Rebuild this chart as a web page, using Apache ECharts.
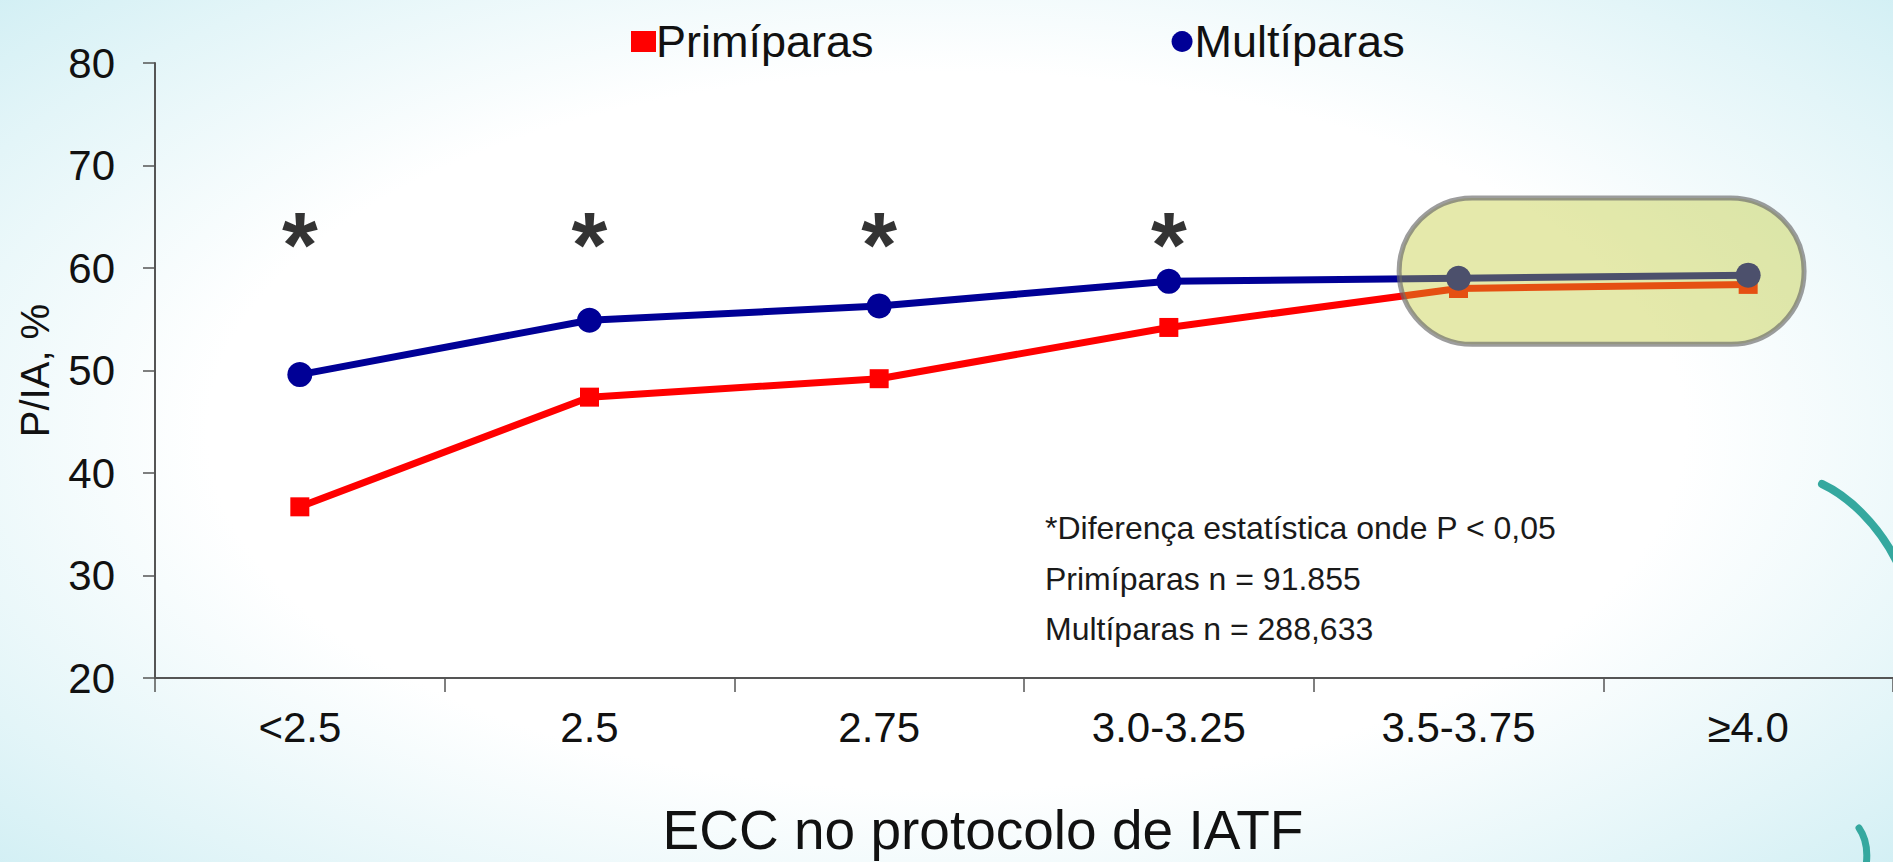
<!DOCTYPE html>
<html>
<head>
<meta charset="utf-8">
<script src="https://cdn.jsdelivr.net/npm/echarts@6/dist/echarts.min.js"></script>
<style>
  html, body { margin: 0; padding: 0; width: 1893px; height: 862px; overflow: hidden; }
  body {
    background: radial-gradient(ellipse 75% 80% at 50% 50%, #ffffff 0%, #ffffff 52%, #e3f5f8 78%, #c9ecf2 100%);
  }
  #chart { width: 1893px; height: 862px; }
</style>
</head>
<body>
<div id="chart"></div>
<script>
// ---- Data ----
const categories = ['<2.5', '2.5', '2.75', '3.0-3.25', '3.5-3.75', '≥4.0'];
const primiparas = [36.7, 47.4, 49.2, 54.2, 58.0, 58.4];
const multiparas = [49.6, 54.9, 56.3, 58.7, 59.0, 59.3];
const seriesNames = ['Primíparas', 'Multíparas'];
const yMin = 20, yMax = 80, yStep = 10;
const starCategories = ['<2.5', '2.5', '2.75', '3.0-3.25'];
const starLevel = 62.2;
const notes = ['*Diferença estatística onde P < 0,05', 'Primíparas n = 91.855', 'Multíparas n = 288,633'];
const highlightCats = ['3.5-3.75', '≥4.0'];
const highlightRange = [52.55, 66.84];
const xAxisTitle = 'ECC no protocolo de IATF';
const yAxisTitle = 'P/IA, %';

const FONT = '"Liberation Sans", Arial, sans-serif';
const chart = echarts.init(document.getElementById('chart'), null, { renderer: 'svg' });

chart.setOption({
  animation: false,
  backgroundColor: 'transparent',
  textStyle: { fontFamily: FONT },
  grid: { left: 155, right: 0, top: 63, bottom: 182, containLabel: false },
  legend: {
    data: [
      { name: seriesNames[0], icon: 'rect' },
      { name: seriesNames[1], icon: 'circle' }
    ],
    left: 626, top: 14,
    itemGap: 298, itemWidth: 25, itemHeight: 21,
    textStyle: { fontSize: 45, color: '#111', fontFamily: FONT, padding: [0, 0, 0, -5] }
  },
  xAxis: {
    type: 'category',
    data: categories,
    boundaryGap: true,
    name: xAxisTitle,
    nameLocation: 'middle',
    nameGap: 124,
    nameTextStyle: { fontSize: 55, color: '#111', fontFamily: FONT, padding: [0, 82, 0, 0] },
    axisLine: { lineStyle: { color: '#555', width: 2 } },
    axisTick: { show: true, length: 14, lineStyle: { color: '#555', width: 1.5 } },
    axisLabel: { fontSize: 42, color: '#111', margin: 28, fontFamily: FONT },
    splitLine: { show: false }
  },
  yAxis: {
    type: 'value',
    min: yMin, max: yMax, interval: yStep,
    name: yAxisTitle,
    nameLocation: 'middle',
    nameGap: 100,
    nameTextStyle: { fontSize: 40, color: '#111', fontFamily: FONT },
    axisLine: { show: true, lineStyle: { color: '#555', width: 2 } },
    axisTick: { show: true, length: 12, lineStyle: { color: '#555', width: 1.5 } },
    axisLabel: { fontSize: 42, color: '#111', margin: 40, fontFamily: FONT },
    splitLine: { show: false }
  },
  series: [
    {
      name: seriesNames[0], type: 'line', data: primiparas,
      symbol: 'rect', symbolSize: 19,
      lineStyle: { color: '#ff0000', width: 7 },
      itemStyle: { color: '#ff0000' },
      z: 3
    },
    {
      name: seriesNames[1], type: 'line', data: multiparas,
      symbol: 'circle', symbolSize: 25,
      lineStyle: { color: '#000096', width: 7 },
      itemStyle: { color: '#000096' },
      z: 4
    },
    {
      name: 'stars', type: 'scatter',
      data: starCategories.map(c => [c, starLevel]),
      symbolSize: 1,
      itemStyle: { color: 'rgba(0,0,0,0)' },
      label: { show: true, position: 'inside', formatter: '*', fontSize: 92, fontWeight: 'bold', color: '#000', fontFamily: FONT },
      silent: true, z: 5
    }
  ]
});

// Highlight pill and annotation text, positioned through the chart's scales
const p1 = chart.convertToPixel({ xAxisIndex: 0, yAxisIndex: 0 }, [highlightCats[0], highlightRange[1]]);
const p2 = chart.convertToPixel({ xAxisIndex: 0, yAxisIndex: 0 }, [highlightCats[1], highlightRange[0]]);
const bandW = chart.convertToPixel({ xAxisIndex: 0 }, categories[1]) - chart.convertToPixel({ xAxisIndex: 0 }, categories[0]);
const pillX = p1[0] - bandW * 0.205;
const pillW = (p2[0] + bandW * 0.193) - pillX;
const pillY = p1[1];
const pillH = p2[1] - p1[1];

chart.setOption({
  graphic: [
    {
      type: 'rect', z: 100, silent: true,
      shape: { x: pillX, y: pillY, width: pillW, height: pillH, r: pillH / 2 },
      style: { fill: 'rgba(190,200,45,0.40)', stroke: 'rgba(105,105,105,0.65)', lineWidth: 5 }
    },
    ...notes.map((t, i) => ({
      type: 'text', z: 50, silent: true,
      x: 1045, y: 528 + i * 50.5,
      style: { text: t, fontSize: 32, fill: '#1a1a1a', fontFamily: FONT, textVerticalAlign: 'middle', textAlign: 'left' }
    })),
    {
      type: 'bezierCurve', z: 1, silent: true,
      shape: { x1: 1822, y1: 484, x2: 1897, y2: 562, cpx1: 1848, cpy1: 496, cpx2: 1878, cpy2: 524 },
      style: { stroke: '#35a89f', lineWidth: 8, lineCap: 'round', fill: null }
    },
    {
      type: 'bezierCurve', z: 1, silent: true,
      shape: { x1: 1859, y1: 828, x2: 1866, y2: 866, cpx1: 1866, cpy1: 838, cpx2: 1868, cpy2: 852 },
      style: { stroke: '#35a89f', lineWidth: 7, lineCap: 'round', fill: null }
    }
  ]
});
</script>
</body>
</html>
